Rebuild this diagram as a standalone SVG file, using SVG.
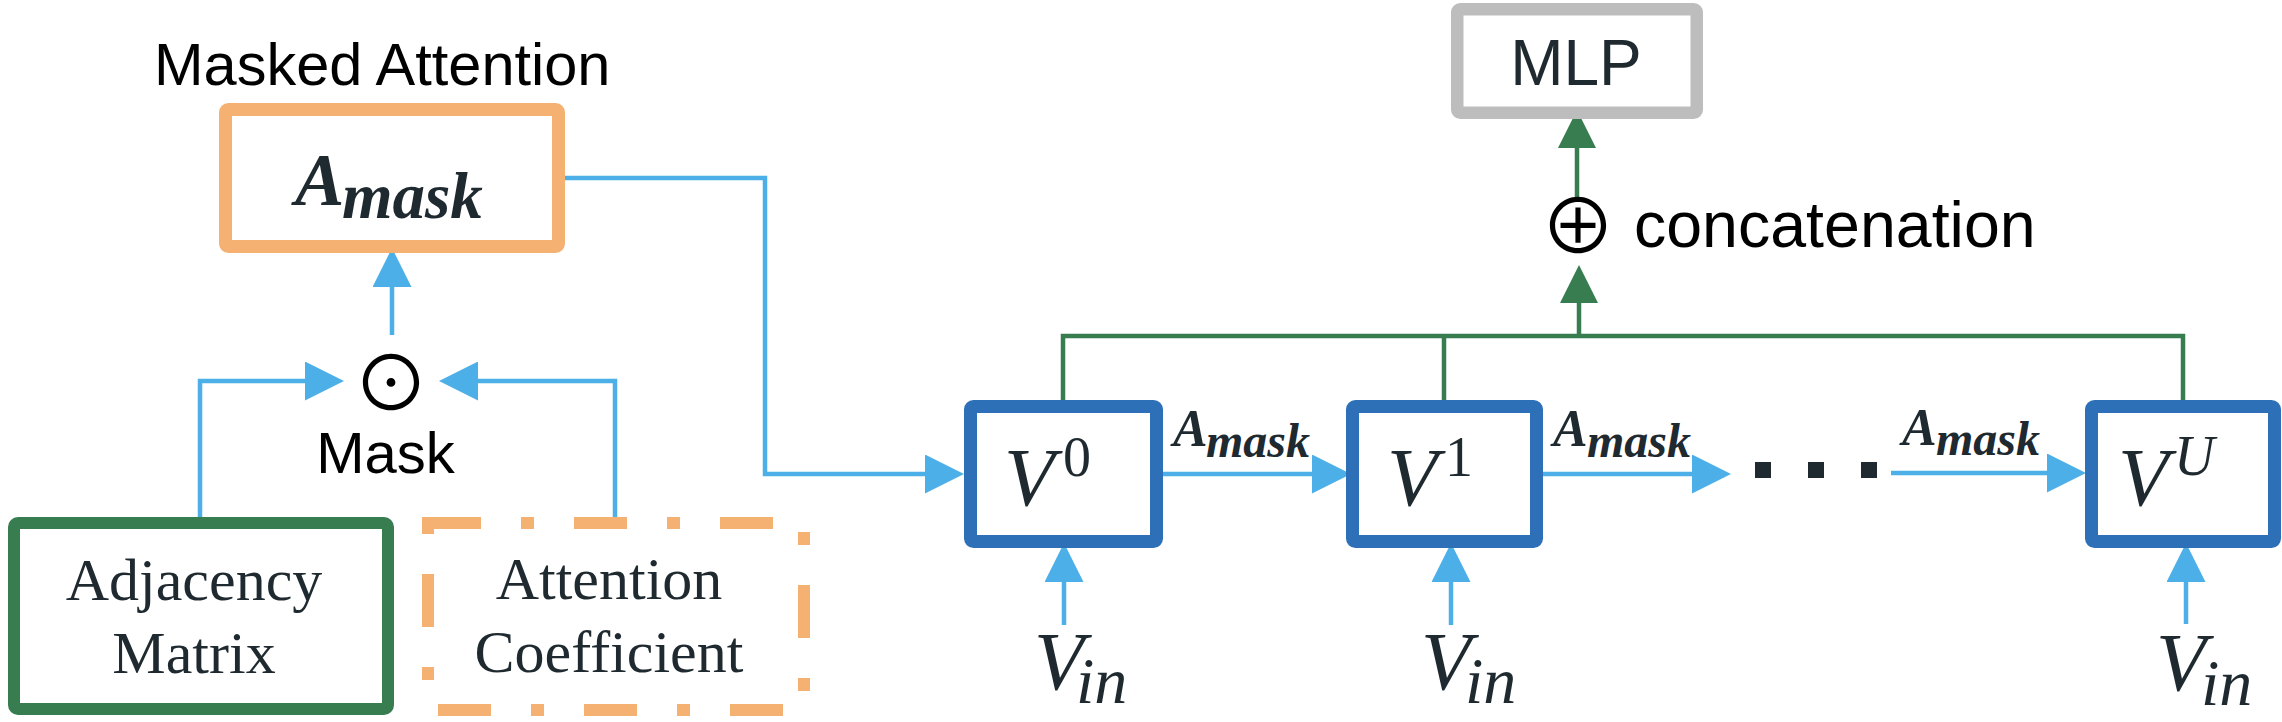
<svg xmlns="http://www.w3.org/2000/svg" width="2282" height="722" viewBox="0 0 2282 722">
<style>
.sans{font-family:"Liberation Sans",Arial,sans-serif;fill:#000}
.serif{font-family:"Liberation Serif","Times New Roman",serif;fill:#1F2A30}
.mi{font-family:"Liberation Serif","Times New Roman",serif;font-style:italic;fill:#1F2A30}
.mb{font-family:"Liberation Serif","Times New Roman",serif;font-style:italic;font-weight:bold;fill:#1F2A30}
.sym{font-family:"Noto Sans CJK JP","DejaVu Sans",sans-serif;fill:#000}
.blue{fill:none;stroke:#4DAFE8;stroke-width:4.5}
.green{fill:none;stroke:#377D50;stroke-width:4.5}
.vbox{fill:#fff;stroke:#2E70B8;stroke-width:13}
</style>
<defs>
<marker id="ab" viewBox="0 0 39 39" refX="2" refY="19.5" markerWidth="39" markerHeight="39" markerUnits="userSpaceOnUse" orient="auto"><path d="M0,0 L39,19.5 L0,39 z" fill="#4DAFE8"/></marker>
<marker id="ag" viewBox="0 0 38 38" refX="2" refY="19" markerWidth="38" markerHeight="38" markerUnits="userSpaceOnUse" orient="auto"><path d="M0,0 L38,19 L0,38 z" fill="#377D50"/></marker>
</defs>

<g id="connectors">
<path class="blue" d="M565,178 H765 V474 H927" marker-end="url(#ab)"/>
<path class="blue" d="M392,335 V285" marker-end="url(#ab)"/>
<path class="blue" d="M200,522 V381 H307" marker-end="url(#ab)"/>
<path class="blue" d="M615,522 V381 H476" marker-end="url(#ab)"/>
<path class="blue" d="M1158,474 H1314" marker-end="url(#ab)"/>
<path class="blue" d="M1538,474 H1694" marker-end="url(#ab)"/>
<path class="blue" d="M1891,473 H2049" marker-end="url(#ab)"/>
<path class="blue" d="M1064,625 V580" marker-end="url(#ab)"/>
<path class="blue" d="M1451,625 V580" marker-end="url(#ab)"/>
<path class="blue" d="M2186,624 V580" marker-end="url(#ab)"/>
<path class="green" d="M1063,400 V336 H2183 V400"/>
<path class="green" d="M1444,336 V402"/>
<path class="green" d="M1579,336 V301" marker-end="url(#ag)"/>
<path class="green" d="M1577,197 V146" marker-end="url(#ag)"/>
<path d="M1755,470 H1877" fill="none" stroke="#1F2A30" stroke-width="16" stroke-dasharray="16 37"/>
<text class="mb" y="446"><tspan x="1173" font-size="52">A</tspan><tspan x="1206" y="457" font-size="48">mask</tspan></text>
<text class="mb" y="446"><tspan x="1553" font-size="52">A</tspan><tspan x="1587" y="457" font-size="48">mask</tspan></text>
<text class="mb" y="445"><tspan x="1902" font-size="52">A</tspan><tspan x="1936" y="455" font-size="48">mask</tspan></text>
</g>

<g id="masked-attention">
<text class="sans" x="154" y="85" font-size="59.5">Masked Attention</text>
<rect x="225.5" y="109.5" width="333" height="137" rx="3" fill="#fff" stroke="#F5B171" stroke-width="13"/>
<text class="mb" y="205"><tspan x="295" font-size="74">A</tspan><tspan x="342" y="218" font-size="65">mask</tspan></text>
</g>

<g id="mask-op">
<text class="sym" x="391" y="411" font-size="76" text-anchor="middle">⊙</text>
<text class="sans" x="385.5" y="473" font-size="58" text-anchor="middle">Mask</text>
</g>

<g id="adjacency">
<rect x="14" y="523" width="374" height="186" rx="4" fill="#fff" stroke="#377D50" stroke-width="12"/>
<text class="serif" font-size="60" text-anchor="middle"><tspan x="194" y="600">Adjacency</tspan><tspan x="194" y="673">Matrix</tspan></text>
</g>

<g id="attention-coefficient">
<rect x="428" y="523" width="376" height="187" fill="#fff" stroke="#F5B171" stroke-width="12" stroke-dasharray="53 40 13 40"/>
<text class="serif" font-size="60" text-anchor="middle"><tspan x="609" y="599">Attention</tspan><tspan x="609" y="672">Coefficient</tspan></text>
</g>

<g id="mlp">
<rect x="1457.25" y="9.25" width="239.5" height="103.5" rx="3" fill="#fff" stroke="#BDBDBD" stroke-width="12.5"/>
<text class="sans" x="1576" y="85" font-size="64" text-anchor="middle" style="fill:#1F2A30">MLP</text>
</g>

<g id="concat">
<text class="sym" x="1578" y="254" font-size="76" text-anchor="middle">⊕</text>
<text class="sans" x="1634" y="247" font-size="64.5">concatenation</text>
</g>

<g id="v0">
<rect class="vbox" x="970.5" y="406.5" width="186" height="135" rx="3"/>
<text class="mi" x="1004" y="505" font-size="83">V</text>
<text class="serif" x="1063" y="476" font-size="56">0</text>
</g>

<g id="v1">
<rect class="vbox" x="1352.5" y="406.5" width="184" height="135" rx="3"/>
<text class="mi" x="1387" y="505" font-size="83">V</text>
<text class="serif" x="1445" y="476" font-size="56">1</text>
</g>

<g id="vu">
<rect class="vbox" x="2091.5" y="406.5" width="183" height="135" rx="3"/>
<text class="mi" x="2118" y="505" font-size="83">V</text>
<text class="mi" x="2174" y="475" font-size="56">U</text>
</g>

<g id="vin0"><text class="mi" y="689"><tspan x="1034" font-size="82">V</tspan><tspan x="1076" y="703" font-size="66">in</tspan></text></g>
<g id="vin1"><text class="mi" y="689"><tspan x="1421" font-size="82">V</tspan><tspan x="1465" y="703" font-size="66">in</tspan></text></g>
<g id="vinu"><text class="mi" y="690"><tspan x="2156" font-size="82">V</tspan><tspan x="2201" y="705" font-size="66">in</tspan></text></g>
</svg>
